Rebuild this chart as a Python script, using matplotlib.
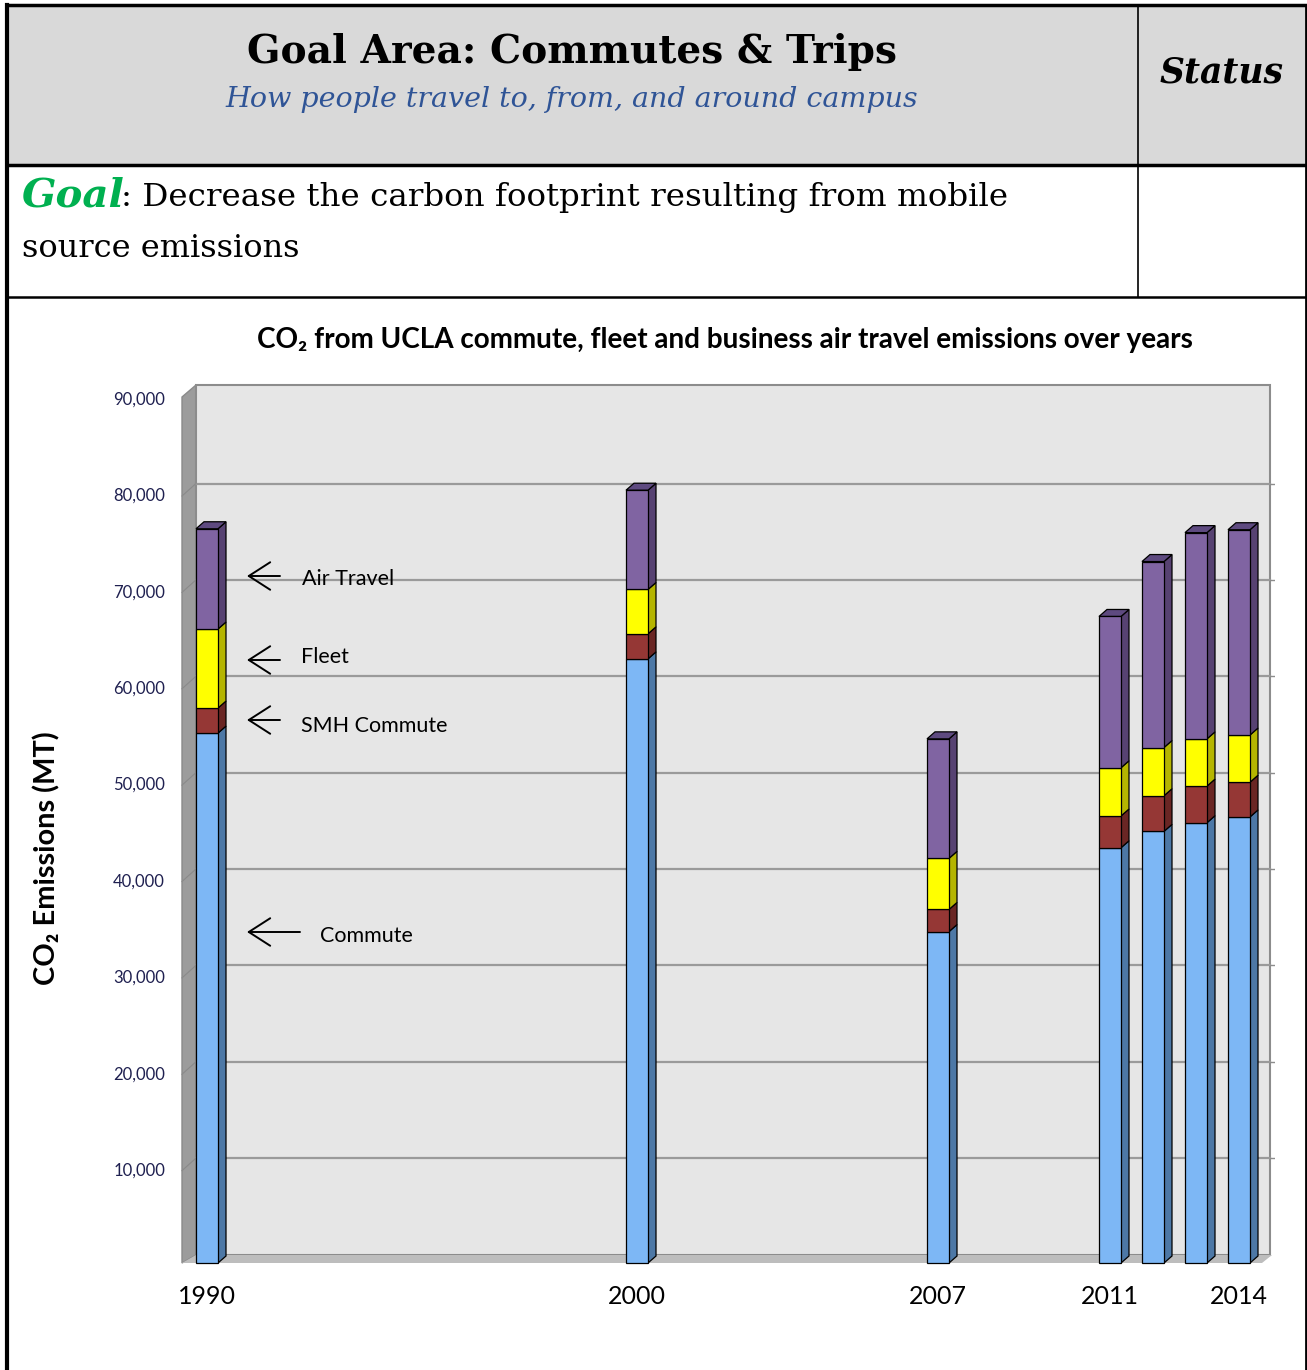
import matplotlib
matplotlib.use('Agg')
import matplotlib.pyplot as plt
from matplotlib.patches import Rectangle, Polygon

# --- data (metric tons CO2) ---
years = [1990, 2000, 2007, 2011, 2012, 2013, 2014]
commute = [55400, 63100, 34800, 43500, 45200, 46100, 46700]
smh_commute = [2600, 2600, 2300, 3300, 3700, 3800, 3600]
fleet = [8200, 4600, 5300, 5000, 5000, 4900, 4900]
air_travel = [10400, 10300, 12400, 15700, 19300, 21400, 21300]
year_labels = [1990, 2000, 2007, 2011, 2014]
y_ticks = [10000, 20000, 30000, 40000, 50000, 60000, 70000, 80000, 90000]
callouts = ['Air Travel', 'Fleet', 'SMH Commute', 'Commute']

W, H = 1307, 1370
fig = plt.figure(figsize=(W / 100, H / 100), dpi=100)
fig.patch.set_facecolor('white')

# page layer in pixel coordinates (drawn on top of the chart axes)
pg = fig.add_axes([0, 0, 1, 1])
pg.set_xlim(0, W)
pg.set_ylim(H, 0)
pg.axis('off')
pg.set_zorder(3)
renderer = fig.canvas.get_renderer()


def fit(t, width):
    bb = t.get_window_extent(renderer)
    t.set_fontsize(t.get_fontsize() * width / bb.width)
    return t


# header table
pg.add_patch(Rectangle((7, 5), 1299, 160, color='#D9D9D9', zorder=0))
pg.plot([7, 1306], [5, 5], color='black', lw=2.5)
pg.plot([7, 1306], [165, 165], color='black', lw=2.5)
pg.plot([7, 1306], [297, 297], color='black', lw=1.8)
pg.plot([7, 7], [5, H], color='black', lw=3)
pg.plot([1306, 1306], [5, H], color='black', lw=2)
pg.plot([1138, 1138], [5, 297], color='black', lw=1.2)

fit(pg.text(572, 63, 'Goal Area: Commutes & Trips', family='DejaVu Serif',
            weight='bold', fontsize=24, ha='center', va='baseline'), 650)
fit(pg.text(572, 107, 'How people travel to, from, and around campus',
            family='DejaVu Serif', style='italic', color='#2F5496',
            fontsize=20, ha='center', va='baseline'), 692)
fit(pg.text(1222, 82, 'Status', family='DejaVu Serif', weight='bold',
            style='italic', fontsize=22, ha='center', va='baseline'), 124)
fit(pg.text(22, 206, 'Goal', family='DejaVu Serif', weight='bold',
            style='italic', color='#00B050', fontsize=28, va='baseline'), 103)
fit(pg.text(121, 206, ': Decrease the carbon footprint resulting from mobile',
            family='DejaVu Serif', fontsize=22, va='baseline'), 885)
fit(pg.text(22, 257, 'source emissions', family='DejaVu Serif', fontsize=22,
            va='baseline'), 278)

# --- chart ---
SANS = ['Lato', 'DejaVu Sans']
K = 10000 / 96.375  # value units per pixel


def px_x(p):
    return 1990 + (p - 207) / 43.0


def px_y(p):
    return (1267 - p) * K


ax = fig.add_axes([180 / W, 1 - 1270 / H, 1095 / W, 890 / H])
ax.set_xlim(px_x(180), px_x(1275))
ax.set_ylim(px_y(1270), px_y(380))
ax.axis('off')
ax.patch.set_alpha(0)
ax.set_zorder(2)

# walls and floor
ax.add_patch(Polygon([(px_x(182), px_y(1263)), (px_x(182), px_y(397)),
                      (px_x(196), px_y(385)), (px_x(196), px_y(1255))],
                     closed=True, facecolor='#9C9C9C', edgecolor='#8A8A8A', zorder=1))
ax.add_patch(Rectangle((px_x(196), px_y(1255)), px_x(1270) - px_x(196),
                       px_y(385) - px_y(1255), facecolor='#E6E6E6',
                       edgecolor='#8C8C8C', lw=1.5, zorder=1))
ax.add_patch(Polygon([(px_x(182), px_y(1263)), (px_x(196), px_y(1255)),
                      (px_x(1272), px_y(1255)), (px_x(1262), px_y(1263))],
                     closed=True, facecolor='#BDBDBD', edgecolor='none', zorder=1))
off = 12.5 * K
for v in y_ticks[:-1]:
    ax.plot([px_x(196), px_x(1270)], [v + off, v + off], color='#9A9A9A', lw=1.6, zorder=2)
    ax.plot([px_x(182), px_x(196)], [v, v + off], color='#8A8A8A', lw=0.8, zorder=2)
    ax.plot([px_x(1270), px_x(1274)], [v + off, v + off], color='#8C8C8C', lw=1, zorder=2)

# 3D stacked bars
bw = 22 / 43.0
ddx, ddy = 8 / 43.0, 7 * K
base = px_y(1263)
layers = [(commute, '#7DB7F5', '#4D78A6'),
          (smh_commute, '#953735', '#6A2624'),
          (fleet, '#FFFF00', '#B5B500'),
          (air_travel, '#8064A2', '#574272')]
bottom = [0] * len(years)
for i, (vals, front, side) in enumerate(layers):
    lo = [base if i == 0 else b for b in bottom]
    hi = [b + v for b, v in zip(bottom, vals)]
    ax.bar(years, [h - l for h, l in zip(hi, lo)], bottom=lo, width=bw, color=front,
           edgecolor='black', lw=0.9, zorder=4)
    for x, b, t in zip(years, lo, hi):
        r = x + bw / 2
        ax.add_patch(Polygon([(r, b), (r + ddx, b + ddy), (r + ddx, t + ddy), (r, t)],
                             closed=True, facecolor=side, edgecolor='black', lw=0.9, zorder=3))
    bottom = hi
for x, t in zip(years, bottom):
    ax.add_patch(Polygon([(x - bw / 2, t), (x - bw / 2 + ddx, t + ddy),
                          (x + bw / 2 + ddx, t + ddy), (x + bw / 2, t)],
                         closed=True, facecolor='#5E4A80', edgecolor='black', lw=0.9, zorder=3))

# tick labels
for v in y_ticks:
    ax.text(px_x(165), v, f'{v:,}', ha='right', va='center', family=SANS,
            fontsize=12, color='#1F2050')
for yr in year_labels:
    ax.text(yr, px_y(1296), str(yr), ha='center', va='center', family=SANS,
            fontsize=18, color='black')

fit(pg.text(725, 348, 'CO\u2082 from UCLA commute, fleet and business air travel emissions over years',
            family=SANS, weight='bold', fontsize=17, ha='center', va='baseline'), 938)
fit(pg.text(47, 858, 'CO\u2082 Emissions (MT)', family=SANS, weight='bold', fontsize=18,
            rotation=90, ha='center', va='center'), 1)
yl = pg.texts[-1]
yl.set_fontsize(yl.get_fontsize() * 253 / yl.get_window_extent(renderer).height)

# callouts with arrows
for lab, tx, ty, ay, x0 in [(callouts[0], 302, 579, 576, 280),
                            (callouts[1], 301, 657, 660, 280),
                            (callouts[2], 301, 726, 720, 280),
                            (callouts[3], 320, 936, 932, 300)]:
    pg.text(tx, ty, lab, family=SANS, fontsize=15.5, va='center')
    pg.annotate('', xy=(247, ay), xytext=(x0, ay),
                arrowprops=dict(arrowstyle='->,head_length=0.7,head_width=0.45',
                                mutation_scale=22, color='black', lw=1.4,
                                shrinkA=0, shrinkB=0))

fig.savefig('out.png', dpi=100)
